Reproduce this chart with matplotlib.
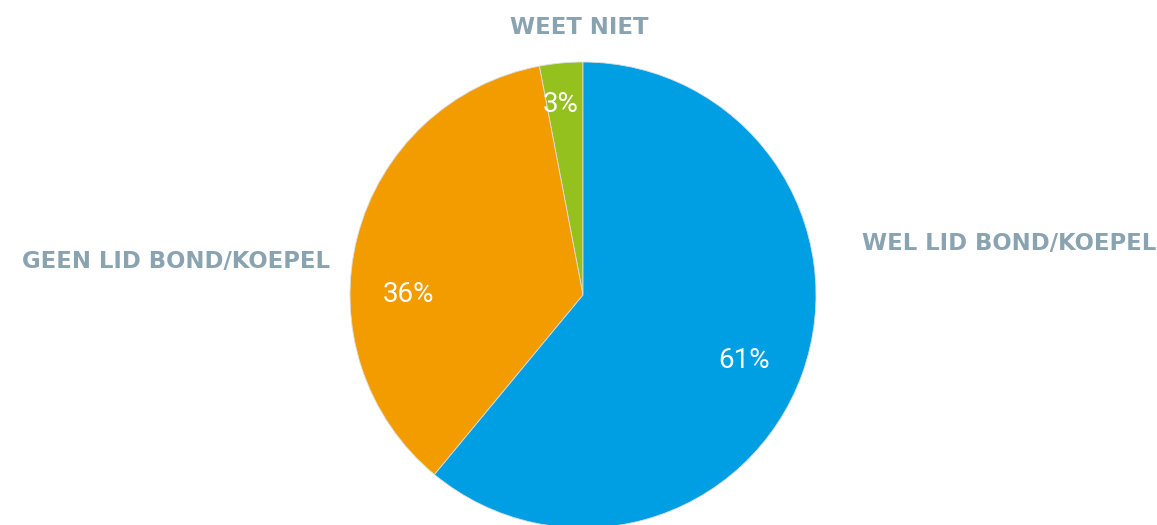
import matplotlib
matplotlib.use("Agg")
import matplotlib.pyplot as plt

# data
categories = ["WEET NIET", "GEEN LID BOND/KOEPEL", "WEL LID BOND/KOEPEL"]
shares = [3, 36, 61]
pct_labels = ["3%", "36%", "61%"]
colors = ["#95C11F", "#F39C00", "#009FE3"]

W, H = 1157, 525
fig = plt.figure(figsize=(W / 100, H / 100), dpi=100)
ax = fig.add_axes([0, 0, 1, 1])

# pie in pixel coords (y up), starts at top, counter-clockwise
cx, cy, r = 583, H - 295, 233
ax.pie(shares, colors=colors, startangle=90, counterclock=True,
       center=(cx, cy), radius=r, frame=True,
       wedgeprops=dict(linewidth=0.6, edgecolor="#dddddd"))
ax.set_xlim(0, W)
ax.set_ylim(0, H)
ax.set_aspect("equal")
ax.axis("off")

# category labels
cat_pos = [(579, H - 27, "center"), (22, H - 261, "left"), (862, H - 244, "left")]
for name, (x, y, ha) in zip(categories, cat_pos):
    ax.text(x, y, name, ha=ha, va="center", color="#8AA3B1",
            fontsize=16.4, fontweight="bold", family=["DejaVu Sans"])

# percentage labels
pct_pos = [(561, H - 105), (409, H - 295), (744, H - 360)]
for lab, (x, y) in zip(pct_labels, pct_pos):
    ax.text(x, y, lab, ha="center", va="center", color="white",
            fontsize=20, fontweight="normal", family=["Roboto", "DejaVu Sans"])

fig.savefig("out.png", dpi=100)
